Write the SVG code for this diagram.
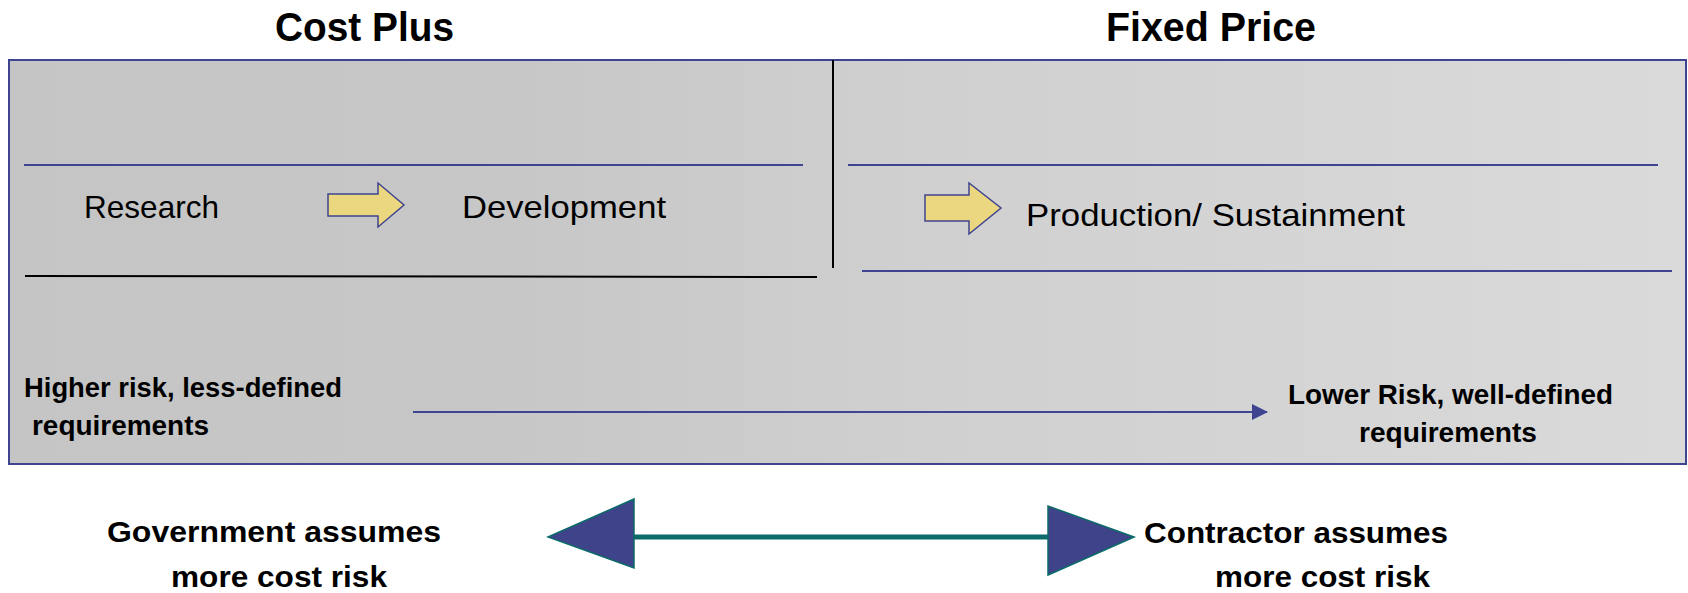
<svg xmlns="http://www.w3.org/2000/svg" width="1688" height="593" viewBox="0 0 1688 593">
<defs>
<linearGradient id="bg" x1="0" y1="0" x2="1" y2="0">
<stop offset="0" stop-color="#c5c5c5"/>
<stop offset="0.3" stop-color="#c7c7c7"/>
<stop offset="0.55" stop-color="#d0d0d0"/>
<stop offset="1" stop-color="#dadada"/>
</linearGradient>
<marker id="ah" markerWidth="16" markerHeight="16" refX="15" refY="8" orient="auto" markerUnits="userSpaceOnUse">
<path d="M0,0 L16,8 L0,16 Z" fill="#3f4490"/>
</marker>
</defs>
<style>
.title{font-family:"Liberation Sans",Arial,sans-serif;font-weight:bold;font-size:41px;fill:#000}
.reg{font-family:"Liberation Sans",Arial,sans-serif;font-size:32px;fill:#000}
.bold{font-family:"Liberation Sans",Arial,sans-serif;font-weight:bold;font-size:28px;fill:#000}
.big{font-size:30px}
.blue{stroke:#3f4490;stroke-width:2;fill:none}
.black{stroke:#000;stroke-width:2;fill:none}
.yarrow{fill:#ecd781;stroke:#3f4490;stroke-width:1.5}
.tri{fill:#3f4389;stroke:#0b6b68;stroke-width:1.5}
</style>
<rect width="1688" height="593" fill="#fff"/>
<g id="titles">
<text class="title" x="275" y="41" textLength="179" lengthAdjust="spacingAndGlyphs">Cost Plus</text>
<text class="title" x="1106" y="41" textLength="210" lengthAdjust="spacingAndGlyphs">Fixed Price</text>
</g>
<g id="panel">
<rect x="9" y="60" width="1677" height="404" fill="url(#bg)" stroke="#3f4490" stroke-width="2"/>
</g>
<g id="connectors">
<line class="blue" x1="24" y1="165" x2="803" y2="165"/>
<line class="blue" x1="848" y1="165" x2="1658" y2="165"/>
<line class="black" x1="833" y1="60" x2="833" y2="268"/>
<line class="black" x1="25" y1="276" x2="817" y2="277"/>
<line class="blue" x1="862" y1="271" x2="1672" y2="271"/>
<line x1="413" y1="412" x2="1267" y2="412" stroke="#3f4490" stroke-width="2" marker-end="url(#ah)"/>
<line x1="630" y1="537" x2="1052" y2="537" stroke="#0b6b68" stroke-width="5"/>
<polygon class="tri" points="548,537 634,499 634,568"/>
<polygon class="tri" points="1134,537 1048,506 1048,575"/>
</g>
<g id="arrow1"><polygon class="yarrow" points="328,194 378,194 378,183 404,205 378,227 378,216 328,216"/></g>
<g id="arrow2"><polygon class="yarrow" points="925,195 969,195 969,183 1001,208 969,234 969,221 925,221"/></g>
<g id="research"><text class="reg" x="84" y="218" textLength="135" lengthAdjust="spacingAndGlyphs">Research</text></g>
<g id="development"><text class="reg" x="462" y="218" textLength="204" lengthAdjust="spacingAndGlyphs">Development</text></g>
<g id="production"><text class="reg" x="1026" y="226" textLength="379" lengthAdjust="spacingAndGlyphs">Production/ Sustainment</text></g>
<g id="higher">
<text class="bold" x="24" y="397" textLength="318" lengthAdjust="spacingAndGlyphs">Higher risk, less-defined</text>
<text class="bold" x="32" y="435" textLength="177" lengthAdjust="spacingAndGlyphs">requirements</text>
</g>
<g id="lower">
<text class="bold" x="1288" y="404" textLength="325" lengthAdjust="spacingAndGlyphs">Lower Risk, well-defined</text>
<text class="bold" x="1359" y="442" textLength="178" lengthAdjust="spacingAndGlyphs">requirements</text>
</g>
<g id="government">
<text class="bold big" x="107" y="542" textLength="334" lengthAdjust="spacingAndGlyphs">Government assumes</text>
<text class="bold big" x="171" y="587" textLength="216" lengthAdjust="spacingAndGlyphs">more cost risk</text>
</g>
<g id="contractor">
<text class="bold big" x="1144" y="543" textLength="304" lengthAdjust="spacingAndGlyphs">Contractor assumes</text>
<text class="bold big" x="1215" y="587" textLength="215" lengthAdjust="spacingAndGlyphs">more cost risk</text>
</g>
</svg>
